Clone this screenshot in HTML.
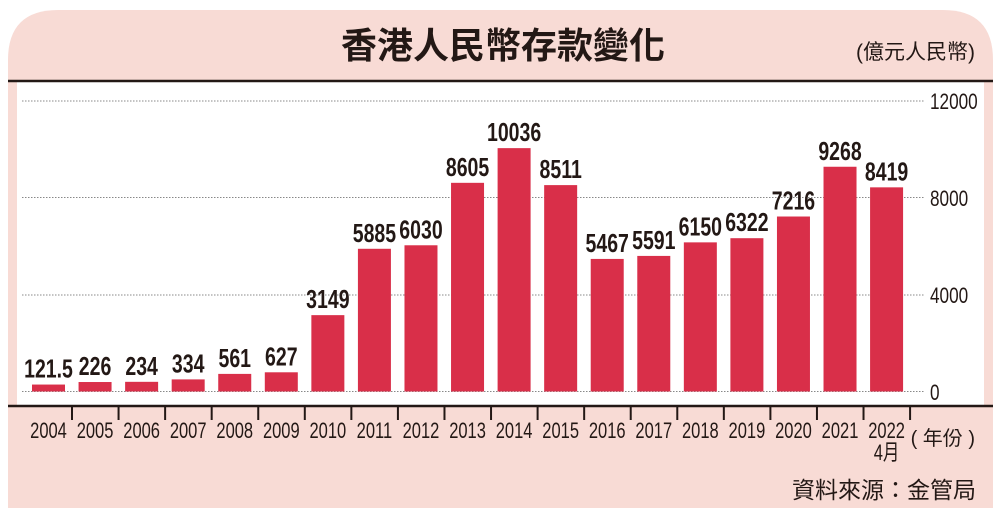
<!DOCTYPE html>
<html><head><meta charset="utf-8"><style>
body{margin:0;width:1000px;height:520px;background:#fff;overflow:hidden;font-family:"Liberation Sans","Noto Sans CJK TC",sans-serif}
</style></head><body>
<svg width="1000" height="520" xmlns="http://www.w3.org/2000/svg">
<path d="M8 508 V60 Q8 10 58 10 H943 Q993 10 993 60 V508 Z" fill="#f8dbd5"/>
<rect x="17" y="82" width="967" height="324" fill="#fff"/>
<line x1="8" y1="81" x2="993" y2="81" stroke="#231815" stroke-width="2.5"/>
<line x1="8" y1="406" x2="993" y2="406" stroke="#231815" stroke-width="2.5"/>
<text x="503" y="58" text-anchor="middle" font-weight="bold" font-size="36" fill="#231815">香港人民幣存款變化</text>
<text x="975" y="59" text-anchor="end" font-size="21" fill="#231815">(億元人民幣)</text>
<g stroke="#888" stroke-width="1" stroke-dasharray="1.5,1.5">
<line x1="22" y1="101" x2="925" y2="101"/><line x1="22" y1="197.5" x2="925" y2="197.5"/><line x1="22" y1="295" x2="925" y2="295"/><line x1="22" y1="391.5" x2="925" y2="391.5"/>
</g>
<g font-size="22" fill="#231815">
<text transform="translate(930,109) scale(0.78,1)">12000</text><text transform="translate(930,206) scale(0.78,1)">8000</text><text transform="translate(930,303) scale(0.78,1)">4000</text><text transform="translate(930,400) scale(0.78,1)">0</text>
</g>
<g id="bars"></g>
<text x="975" y="445" text-anchor="end" font-size="20" fill="#231815">( 年份 )</text>
<text x="976" y="498" text-anchor="end" font-size="23" fill="#231815">資料來源：金管局</text>
</svg>
<script>
var v=[121.5,226,234,334,561,627,3149,5885,6030,8605,10036,8511,5467,5591,6150,6322,7216,9268,8419];
var g=document.getElementById('bars'),s='';
for(var i=0;i<v.length;i++){var x=32+i*46.56,h=v[i]*0.02425+(v[i]<1000?4:0),y=391.5-h;
s+='<rect x="'+x+'" y="'+y+'" width="33" height="'+h+'" fill="#d92f49"/>';
s+='<text transform="translate('+(x+16.5)+','+(y-7)+') scale(0.75,1)" text-anchor="middle" font-weight="bold" font-size="26" fill="#231815">'+v[i]+'</text>';
var tx=x+40;s+='<line x1="'+tx+'" y1="406" x2="'+tx+'" y2="420" stroke="#231815" stroke-width="2"/>';
s+='<text transform="translate('+(x+16.5)+',438) scale(0.75,1)" text-anchor="middle" font-size="22" fill="#231815">'+(2004+i)+'</text>';}
s+='<text transform="translate('+(32+18*46.56+16.5)+',460) scale(0.75,1)" text-anchor="middle" font-size="22" fill="#231815">4月</text>';
g.innerHTML=s;
</script>
</body></html>
